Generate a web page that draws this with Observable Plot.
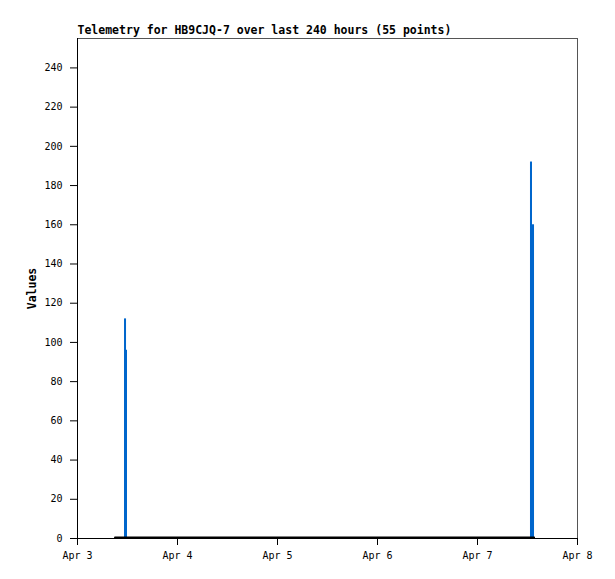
<!DOCTYPE html>
<html><head><meta charset="utf-8">
<script src="https://cdn.jsdelivr.net/npm/d3@7"></script>
<script src="https://cdn.jsdelivr.net/npm/@observablehq/plot@0.6"></script>
<style>
body{margin:0;background:#fff}
g[aria-label="y-axis label"] text{font-weight:bold;font-size:11.5px}
</style>
</head><body><div id="chart"></div>
<script>
const title = "Telemetry for HB9CJQ-7 over last 240 hours (55 points)";
const yLabel = "Values";
const barStart = ["2024-04-03T11:17Z","2024-04-03T11:31Z","2024-04-07T12:43Z","2024-04-07T12:58Z"];
const barEnd   = ["2024-04-03T11:46Z","2024-04-03T12:00Z","2024-04-07T13:12Z","2024-04-07T13:41Z"];
const barValue = [112, 96, 192, 160];
const baseTimes = ["2024-04-03T09:00Z","2024-04-07T13:35Z"];
const baseValues = [0.5, 0.5];
const xTicks = ["2024-04-03T00:00Z","2024-04-04T00:00Z","2024-04-05T00:00Z","2024-04-06T00:00Z","2024-04-07T00:00Z","2024-04-08T00:00Z"];
const yTicks = [0,20,40,60,80,100,120,140,160,180,200,220,240];
const xDomain = ["2024-04-03T00:00Z","2024-04-08T00:00Z"];
const yDomain = [0, 255];

const bars = barValue.map((v,i)=>({x1:new Date(barStart[i]), x2:new Date(barEnd[i]), y:v}));
const base = baseTimes.map((t,i)=>({t:new Date(t), v:baseValues[i]}));
const fmt = d3.utcFormat("%b %-d");

const chart = Plot.plot({
  width: 615, height: 579,
  marginTop: 38, marginLeft: 77, marginRight: 38, marginBottom: 41,
  style: {fontFamily: "'DejaVu Sans Mono', monospace", fontSize: "10px", background: "#fff", color: "#000"},
  x: {type: "utc", domain: xDomain.map(d=>new Date(d))},
  y: {domain: yDomain},
  marks: [
    Plot.frame({stroke: "#555"}),
    Plot.rectY(bars, {x1: "x1", x2: "x2", y: "y", fill: "#0066cc", insetLeft: 0, insetRight: 0}),
    Plot.lineY(base, {x: "t", y: "v", stroke: "#000", strokeWidth: 2}),
    Plot.ruleY([0], {stroke: "#000"}),
    Plot.ruleX([new Date(xDomain[0])], {stroke: "#000"}),
    Plot.axisX({ticks: xTicks.map(d=>new Date(d)), tickFormat: fmt, tickSize: 7, tickPadding: 6, label: null}),
    Plot.axisY({ticks: yTicks, tickSize: 7, tickPadding: 8, label: yLabel, labelAnchor: "center", labelOffset: 50, labelArrow: "none"}),
    Plot.text([title], {frameAnchor: "top-left", dy: -13, textAnchor: "start", fontWeight: "bold", fontSize: 11.5})
  ]
});
document.getElementById("chart").appendChild(chart);
</script>
</body></html>
